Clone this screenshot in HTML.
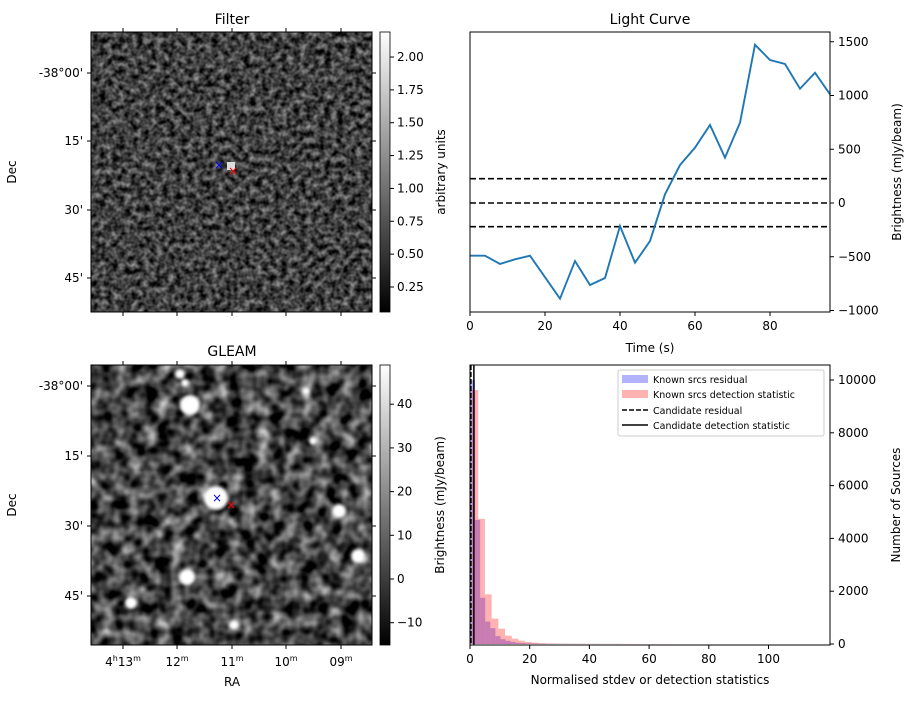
<!DOCTYPE html>
<html><head><meta charset="utf-8"><style>
body{margin:0;background:#fff;font-family:"Liberation Sans","DejaVu Sans",sans-serif}
svg text{font-family:"DejaVu Sans","Liberation Sans",sans-serif;font-size:12px;fill:#000}
</style></head><body>
<svg id="fig" width="916" height="699" viewBox="0 0 916 699" xmlns="http://www.w3.org/2000/svg">
<defs>
<filter id="texF" x="0" y="0" width="100%" height="100%" color-interpolation-filters="sRGB">
<feTurbulence type="fractalNoise" baseFrequency="0.16" numOctaves="2" seed="5" result="t"/>
<feColorMatrix in="t" type="matrix" values="0.9 0 0 0 -0.2  0.9 0 0 0 -0.2  0.9 0 0 0 -0.2  0 0 0 0 1"/>
</filter>
<filter id="texG" x="0" y="0" width="100%" height="100%" color-interpolation-filters="sRGB">
<feTurbulence type="fractalNoise" baseFrequency="0.07" numOctaves="2" seed="9" result="t"/>
<feColorMatrix in="t" type="matrix" values="1.3 0 0 0 -0.38  1.3 0 0 0 -0.38  1.3 0 0 0 -0.38  0 0 0 0 1"/>
</filter>
<filter id="blur"><feGaussianBlur stdDeviation="1.5"/></filter>
<linearGradient id="cbar" x1="0" y1="1" x2="0" y2="0"><stop offset="0" stop-color="#000"/><stop offset="1" stop-color="#fff"/></linearGradient>
</defs>

<!-- Filter panel -->
<g>
<text x="232" y="24" text-anchor="middle" style="font-size:14px">Filter</text>
<rect x="91" y="32" width="281" height="280" fill="#333" filter="url(#texF)"/>
<rect x="227" y="162" width="8" height="8" fill="#ddd"/>
<rect x="91" y="32" width="281" height="280" fill="none" stroke="#000" stroke-width="1"/>
<text x="219" y="169" text-anchor="middle" style="font-size:12px;fill:blue">×</text>
<text x="233" y="175" text-anchor="middle" style="font-size:12px;fill:red">×</text>
<text x="16" y="172" transform="rotate(-90 16 172)" text-anchor="middle">Dec</text>
<g id="filterDec"></g>
<rect x="380" y="32" width="10" height="280" fill="url(#cbar)" stroke="#000" stroke-width="0.8"/>
<g id="filterCb"></g>
<text x="445" y="172" transform="rotate(-90 445 172)" text-anchor="middle">arbitrary units</text>
</g>

<!-- GLEAM panel -->
<g>
<text x="232" y="356" text-anchor="middle" style="font-size:14px">GLEAM</text>
<rect x="91" y="365" width="281" height="280" fill="#444" filter="url(#texG)"/>
<g id="blobs" filter="url(#blur)"></g>
<rect x="91" y="365" width="281" height="280" fill="none" stroke="#000" stroke-width="1"/>
<text x="217" y="502" text-anchor="middle" style="font-size:12px;fill:blue">×</text>
<text x="231" y="509" text-anchor="middle" style="font-size:12px;fill:red">×</text>
<text x="16" y="505" transform="rotate(-90 16 505)" text-anchor="middle">Dec</text>
<text x="232" y="686" text-anchor="middle">RA</text>
<g id="gleamAx"></g>
<rect x="380" y="365" width="10" height="280" fill="url(#cbar)" stroke="#000" stroke-width="0.8"/>
<g id="gleamCb"></g>
<text x="444" y="505" transform="rotate(-90 444 505)" text-anchor="middle">Brightness (mJy/beam)</text>
</g>

<!-- Light curve -->
<g>
<text x="650" y="24" text-anchor="middle" style="font-size:14px">Light Curve</text>
<g id="lc"></g>
<rect x="470" y="32" width="360" height="280" fill="none" stroke="#000" stroke-width="1"/>
<text x="650" y="352" text-anchor="middle">Time (s)</text>
<text x="901" y="172" transform="rotate(-90 901 172)" text-anchor="middle">Brightness (mJy/beam)</text>
</g>

<!-- Histogram -->
<g>
<g id="hist"></g>
<rect x="470" y="365" width="360" height="280" fill="none" stroke="#000" stroke-width="1"/>
<text x="650" y="684" text-anchor="middle">Normalised stdev or detection statistics</text>
<text x="900" y="505" transform="rotate(-90 900 505)" text-anchor="middle">Number of Sources</text>
<g>
<rect x="618" y="370" width="206" height="66" rx="2" fill="#fff" fill-opacity="0.8" stroke="#ccc"/>
<rect x="622" y="375" width="26" height="8" fill="#0000ff" fill-opacity="0.3"/>
<text x="653" y="383" style="font-size:9.5px">Known srcs residual</text>
<rect x="622" y="390" width="26" height="8" fill="#ff0000" fill-opacity="0.3"/>
<text x="653" y="398" style="font-size:9.5px">Known srcs detection statistic</text>
<line x1="622" y1="410" x2="648" y2="410" stroke="#000" stroke-width="1.5" stroke-dasharray="5,2"/>
<text x="653" y="414" style="font-size:9.5px">Candidate residual</text>
<line x1="622" y1="425" x2="648" y2="425" stroke="#000" stroke-width="1.5"/>
<text x="653" y="429" style="font-size:9.5px">Candidate detection statistic</text>
</g>
</g>
</svg>
<script>
const NS="http://www.w3.org/2000/svg";
function mk(parent,tag,attrs,txt){const e=document.createElementNS(NS,tag);for(const k in attrs)e.setAttribute(k,attrs[k]);if(txt!==undefined)e.textContent=txt;document.getElementById(parent).appendChild(e);return e;}

// ---- Light curve data ----
const lcTimes=[0,4,8,12,16,20,24,28,32,36,40,44,48,52,56,60,64,68,72,76,80,84,88,92,96];
const lcValues=[-490,-490,-567,-524,-490,-690,-890,-540,-763,-698,-214,-555,-354,81,353,515,726,422,747,1473,1330,1293,1063,1212,1011];
const lcThresholds=[226,0,-220];
const lcXTicks=[0,20,40,60,80];
const lcYTicks=[-1000,-500,0,500,1000,1500];
const lcX=v=>470+(v-0)/96*360;
const lcY=v=>203-v*0.1075;
lcThresholds.forEach(v=>{const l=mk('lc','line',{x1:470,x2:830,y1:lcY(v),y2:lcY(v),stroke:'#000','stroke-width':1.6,'stroke-dasharray':'6,3'});

});
const pl=mk('lc','polyline',{points:lcTimes.map((t,i)=>lcX(t)+','+lcY(lcValues[i])).join(' '),fill:'none',stroke:'#1f77b4','stroke-width':1.9});


lcXTicks.forEach(v=>{mk('lc','line',{x1:lcX(v),x2:lcX(v),y1:312,y2:316,stroke:'#000'});
const t=mk('lc','text',{x:lcX(v),y:330,'text-anchor':'middle'},String(v));

});
lcYTicks.forEach(v=>{mk('lc','line',{x1:830,x2:834,y1:lcY(v),y2:lcY(v),stroke:'#000'});
const t=mk('lc','text',{x:838,y:lcY(v)+4},String(v).replace('-','\u2212'));

});

// ---- Histogram data ----
const redBinStart=0.5, redBinWidth=2.25;
const redCounts=[9620,4740,1880,960,580,315,200,125,75,50,30,20,15,10,10,8,8,6,6,5,5,5,4,4,3,3,3,3,3,3];
const blueBinStart=0, blueBinWidth=1.7;
const blueCounts=[10000,4700,1750,850,600,300,180,120,80,50,35,25,20,15,12,10,10,8,8,6,6,6,5,5,5,4,4,4,4,4];
const histXTicks=[0,20,40,60,80,100];
const histYTicks=[0,2000,4000,6000,8000,10000];
const candResidual=0.3, candDetection=1.3;
const hX=v=>470+v*2.985;
const hY=v=>644-v*0.0264;
blueCounts.forEach((c,i)=>{const x0=hX(blueBinStart+i*blueBinWidth);const r=mk('hist','rect',{x:x0,y:hY(c),width:hX(blueBinStart+(i+1)*blueBinWidth)-x0,height:644-hY(c),fill:'#0000ff','fill-opacity':0.3});

});
redCounts.forEach((c,i)=>{const x0=hX(redBinStart+i*redBinWidth);const r=mk('hist','rect',{x:x0,y:hY(c),width:hX(redBinStart+(i+1)*redBinWidth)-x0,height:644-hY(c),fill:'#ff0000','fill-opacity':0.3});

});
const dl=mk('hist','line',{x1:hX(candResidual),x2:hX(candResidual),y1:365,y2:645,stroke:'#000','stroke-width':1.5,'stroke-dasharray':'5,2'});


const sl=mk('hist','line',{x1:hX(candDetection),x2:hX(candDetection),y1:365,y2:645,stroke:'#000','stroke-width':1.5});


histXTicks.forEach(v=>{mk('hist','line',{x1:hX(v),x2:hX(v),y1:645,y2:649,stroke:'#000'});
const t=mk('hist','text',{x:hX(v),y:663,'text-anchor':'middle'},String(v));

});
histYTicks.forEach(v=>{mk('hist','line',{x1:830,x2:834,y1:hY(v),y2:hY(v),stroke:'#000'});
const t=mk('hist','text',{x:838,y:hY(v)+4},String(v));

});

// ---- Image axes ----
const decLabels=["-38°00'","15'","30'","45'"];
const filterDecY=[73,141,210,278];
const gleamDecY=[386,456,526,596];
const raLabels=[["4","h","13","m"],["","","12","m"],["","","11","m"],["","","10","m"],["","","09","m"]];
const raX=[123,177,232,286,341];
decLabels.forEach((s,i)=>{
mk('filterDec','line',{x1:91,x2:87,y1:filterDecY[i],y2:filterDecY[i],stroke:'#000'});
mk('filterDec','line',{x1:372,x2:376,y1:filterDecY[i],y2:filterDecY[i],stroke:'#000'});
const t=mk('filterDec','text',{x:83,y:filterDecY[i]+4,'text-anchor':'end'},s);


mk('gleamAx','line',{x1:91,x2:87,y1:gleamDecY[i],y2:gleamDecY[i],stroke:'#000'});
mk('gleamAx','line',{x1:372,x2:376,y1:gleamDecY[i],y2:gleamDecY[i],stroke:'#000'});
const g=mk('gleamAx','text',{x:83,y:gleamDecY[i]+4,'text-anchor':'end'},s);

});
raX.forEach((x,i)=>{
mk('filterDec','line',{x1:x,x2:x,y1:312,y2:316,stroke:'#000'});
mk('filterDec','line',{x1:x,x2:x,y1:32,y2:28,stroke:'#000'});
mk('gleamAx','line',{x1:x,x2:x,y1:645,y2:649,stroke:'#000'});
mk('gleamAx','line',{x1:x,x2:x,y1:365,y2:361,stroke:'#000'});
const L=raLabels[i];
const t=mk('gleamAx','text',{x:x,y:666,'text-anchor':'middle'});


t.innerHTML=(L[0]?L[0]+'<tspan dy="-5" style="font-size:8px">'+L[1]+'</tspan><tspan dy="5">'+L[2]+'</tspan>':L[2])+'<tspan dy="-5" style="font-size:8px">'+L[3]+'</tspan>';});

// colorbars
const filterCbTicks=[0.25,0.5,0.75,1.0,1.25,1.5,1.75,2.0];
const fcb=v=>287-(v-0.25)*(230/1.75);
filterCbTicks.forEach(v=>{mk('filterCb','line',{x1:390,x2:394,y1:fcb(v),y2:fcb(v),stroke:'#000'});
const t=mk('filterCb','text',{x:397,y:fcb(v)+4},v.toFixed(2));

});
const gleamCbTicks=[-10,0,10,20,30,40];
const gcb=v=>579-v*4.37;
gleamCbTicks.forEach(v=>{mk('gleamCb','line',{x1:390,x2:394,y1:gcb(v),y2:gcb(v),stroke:'#000'});
const t=mk('gleamCb','text',{x:397,y:gcb(v)+4},String(v).replace('-','\u2212'));

});

// GLEAM bright sources
const blobX=[190,216,339,358,187,131,234,180,185,306,313];
const blobY=[405,498,511,556,577,603,625,374,383,391,441];
const blobR=[10,12,7,7,8,6,5,5,4,4,4];
blobX.forEach((x,i)=>{const c=mk('blobs','circle',{cx:x,cy:blobY[i],r:blobR[i],fill:'#fff'});

});
</script>
</body></html>
